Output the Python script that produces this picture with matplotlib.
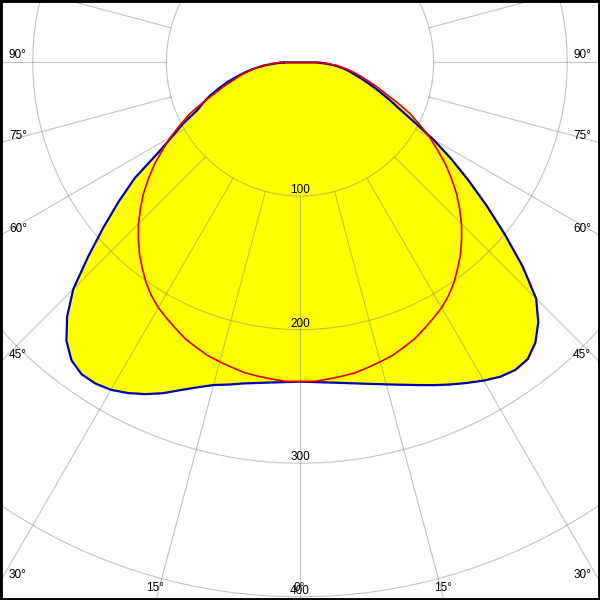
import numpy as np
import matplotlib
matplotlib.use("Agg")
import matplotlib.pyplot as plt

# ---- data (angle in degrees from nadir, negative = left half) ----
angles = [-90, -87.5, -85, -82.5, -80, -77.5, -75, -72.5, -70, -67.5, -65, -62.5, -60, -57.5,
          -55, -52.5, -50, -47.5, -45, -42.5, -40, -37.5, -35, -32.5, -30, -27.5, -25, -22.5,
          -20, -17.5, -15, -12.5, -10, -7.5, -5, -2.5,
          0, 2.5, 5, 7.5, 10, 12.5, 15, 17.5, 20, 22.5, 25, 27.5, 30, 32.5, 35, 37.5, 40, 42.5,
          45, 47.5, 50, 52.5, 55, 57.5, 60, 62.5, 65, 67.5, 70, 72.5, 75, 77.5, 80, 82.5, 85,
          87.5, 90]
plane_c0_c180 = [12, 19, 27, 34, 41, 48, 56, 63, 71, 78, 85, 98, 110, 126,
                 151, 171, 192, 215, 240, 258, 272, 281, 285, 285, 283, 279, 274, 268,
                 261, 255, 250, 247, 244, 242, 240.5, 239.5,
                 239, 239.5, 240.5, 242, 244, 246.5, 249.5, 253, 257, 261.5, 266, 270.5, 275,
                 279, 281, 280, 274, 264,
                 250, 226, 200, 176, 154, 134, 115, 96, 82, 72, 63, 55, 48, 42, 37, 32, 26,
                 19, 12]
plane_c90_c270 = [15, 21, 28, 34, 40, 46, 52, 60, 68, 79, 91, 101, 112, 122,
                  133, 143, 153, 162, 171, 179, 187, 194, 201, 207, 212, 216, 220, 224,
                  227, 230, 232, 234, 236, 237, 238, 239,
                  239, 239, 238, 237, 236, 234, 232, 230, 227, 224, 220, 216, 212, 207, 201,
                  194, 187, 179,
                  171, 162, 153, 143, 133, 122, 112, 101, 91, 79, 68, 60, 52, 46, 40, 34, 28,
                  21, 15]
radius_ticks = [100, 200, 300, 400]
label_angles = [90, 75, 60, 45, 30, 15, 0]

# ---- figure ----
W, H = 600, 600
scale = 1.336            # pixels per unit
cx_px, cy_px = 300, 62.4
xmin, xmax = -cx_px / scale, (W - cx_px) / scale
ymax, ymin = cy_px / scale, -(H - cy_px) / scale

fig = plt.figure(figsize=(6, 6), dpi=100)
ax = fig.add_axes([0, 0, 1, 1])
ax.set_xlim(xmin, xmax)
ax.set_ylim(ymin, ymax)
ax.set_xticks([])
ax.set_yticks([])
for sp in ax.spines.values():
    sp.set_color("black")
    sp.set_linewidth(3.5)


def to_xy(ang, r):
    t = np.deg2rad(np.asarray(ang, dtype=float))
    r = np.asarray(r, dtype=float)
    return r * np.sin(t), -r * np.cos(t)


xb, yb = to_xy(angles, plane_c0_c180)
xr, yr = to_xy(angles, plane_c90_c270)

ax.fill(xb, yb, color="#ffff00", lw=0, zorder=1)
ax.fill(xr, yr, color="#ffff00", lw=0, zorder=1)

# grid
gcol = "#7a7a7a"
galpha = 0.45
tt = np.linspace(0, 2 * np.pi, 720)
for R in radius_ticks:
    ax.plot(R * np.cos(tt), R * np.sin(tt), color=gcol, alpha=galpha, lw=0.8, zorder=2)
for a in range(0, 360, 15):
    x0, y0 = to_xy(a, radius_ticks[0])
    x1, y1 = to_xy(a, 800)
    ax.plot([x0, x1], [y0, y1], color=gcol, alpha=galpha, lw=0.8, zorder=2)

# curves
ax.plot(np.append(xb, xb[0]), np.append(yb, yb[0]), color="#0000b4", lw=1.6, zorder=3,
        solid_joinstyle="round")
ax.plot(np.append(xr, xr[0]), np.append(yr, yr[0]), color="#e00000", lw=1.2, zorder=4,
        solid_joinstyle="round")

font = dict(family=["Liberation Sans", "DejaVu Sans"], fontsize=8.5, color="black", zorder=5)
px = 1.0 / scale

# radius labels
for R in radius_ticks:
    ax.text(0, -R + 6 * px, str(R), ha="center", va="center", **font)

# angle labels
for a in label_angles:
    t = np.deg2rad(a)
    s, c = np.sin(t), np.cos(t)
    for side in (-1, 1):
        if a == 0 and side == 1:
            continue
        tx = (xmax if side > 0 else -xmin) / s if s > 1e-9 else np.inf
        tb = (-ymin) / c if c > 1e-9 else np.inf
        if tx <= tb:
            yv = -tx * c
            if side < 0:
                ax.text(xmin + 9 * px, yv + 7 * px, f"{a}°", ha="left", va="center", **font)
            else:
                ax.text(xmax - 9 * px, yv + 7 * px, f"{a}°", ha="right", va="center", **font)
        else:
            xv = side * tb * s
            ax.text(xv - 1 * px, ymin + 12 * px, f"{a}°", ha="center", va="center", **font)

fig.savefig("out.png", dpi=100)
